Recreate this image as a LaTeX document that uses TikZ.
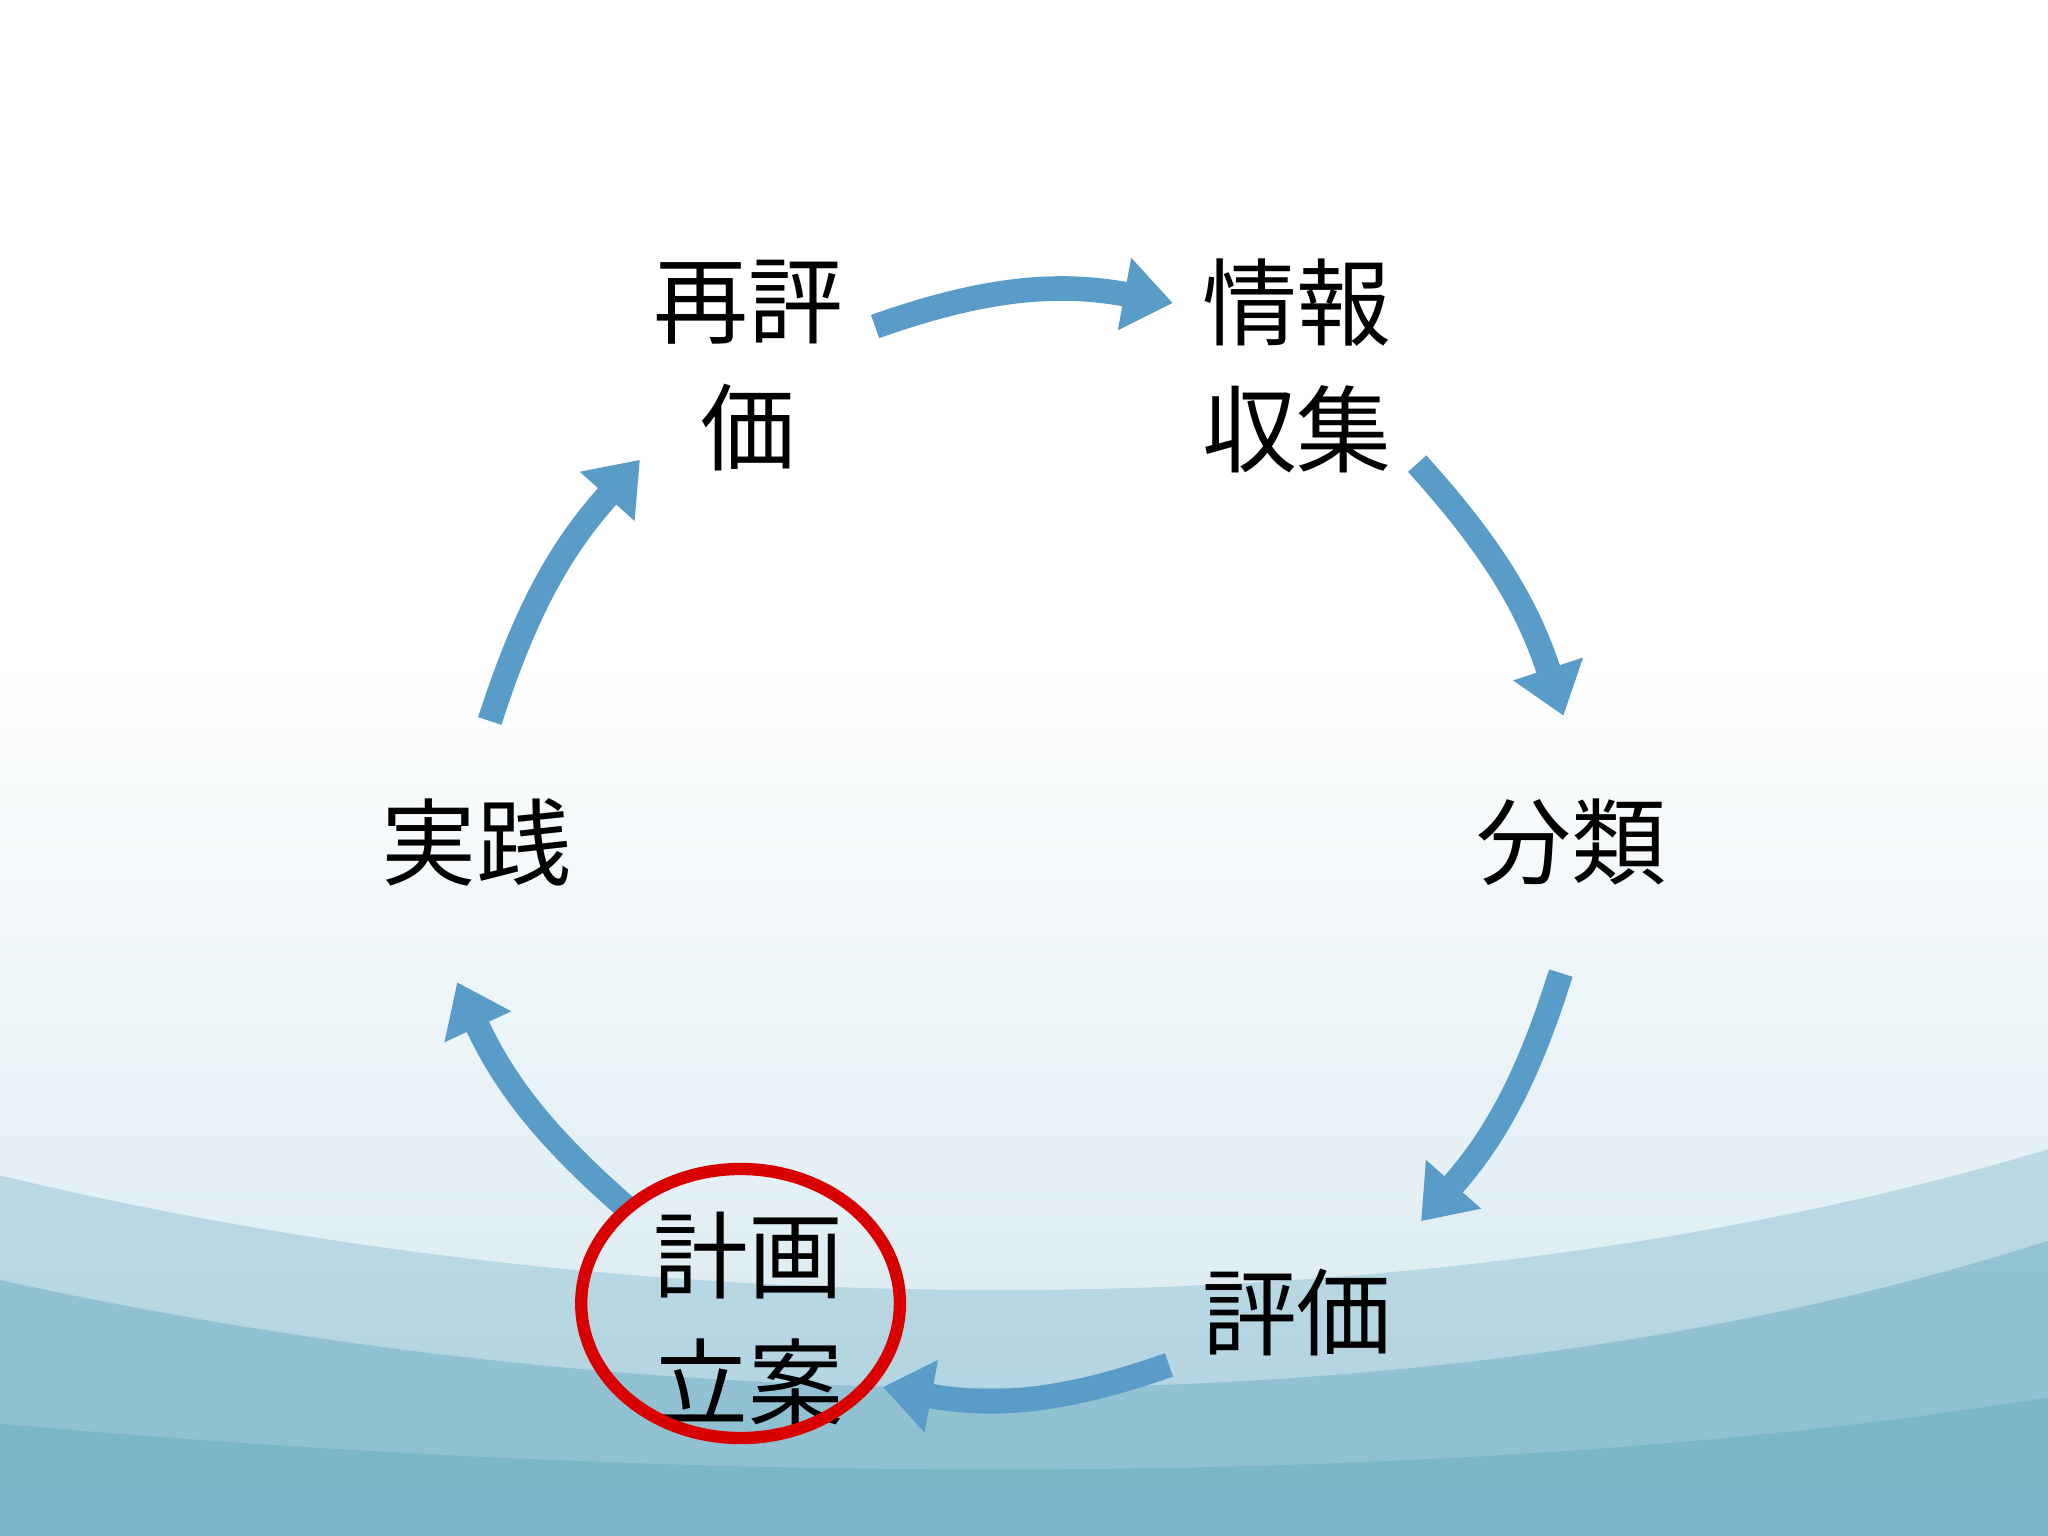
\documentclass[tikz,border=0pt]{standalone}
\usepackage{fontspec}
\newfontfamily\cjk{Noto Sans CJK JP}
\usetikzlibrary{arrows.meta,shapes.geometric}
\definecolor{arr}{HTML}{5A9CC8}
\definecolor{seaA}{HTML}{D2E6EE}
\definecolor{seaB}{HTML}{6FAFC4}
\tikzset{
  lbl/.style={font=\cjk\fontsize{27}{36}\selectfont, align=center, text=black},
  cyc/.style={draw=arr, line width=7pt, -{Triangle[width=20pt,length=14pt]}}
}
\begin{document}
\begin{tikzpicture}[x=0.013061cm,y=-0.013061cm]
\useasboundingbox (0,0) rectangle (1568,1176);
\fill[white] (0,0) rectangle (1568,1176);
\shade[top color=white, bottom color=seaA] (0,500) rectangle (1568,1176);
\fill[seaB, opacity=0.35] (0,900) .. controls (500,1020) and (1100,1020) .. (1568,880) -- (1568,1176) -- (0,1176) -- cycle;
\fill[seaB, opacity=0.5] (0,980) .. controls (500,1090) and (1100,1100) .. (1568,950) -- (1568,1176) -- (0,1176) -- cycle;
\fill[seaB, opacity=0.6] (0,1090) .. controls (500,1135) and (1100,1145) .. (1568,1070) -- (1568,1176) -- (0,1176) -- cycle;

\node[lbl] (a) at (573,280) {再評\\価};
\node[lbl] (b) at (993,280) {情報\\収集};
\node[lbl] (c) at (1203,645) {分類};
\node[lbl] (d) at (993,1005) {評価};
\node[lbl] (e) at (573,1010) {計画\\立案};
\node[lbl] (f) at (365,645) {実践};

\coordinate (a1) at (670,250); \coordinate (a2) at (898,232);
\coordinate (b1) at (1085,355); \coordinate (b2) at (1197,548);
\coordinate (c1) at (1195,745); \coordinate (c2) at (1088,935);
\coordinate (d1) at (895,1045); \coordinate (d2) at (676,1062);
\coordinate (e1) at (480,925); \coordinate (e2) at (350,752);
\coordinate (f1) at (375,552); \coordinate (f2) at (490,352);
\draw[cyc] (a1) to[bend left=15] (a2);
\draw[cyc] (b1) to[bend left=12] (b2);
\draw[cyc] (c1) to[bend left=12] (c2);
\draw[cyc] (d1) to[bend left=15] (d2);
\draw[cyc] (e1) to[bend left=12] (e2);
\draw[cyc] (f1) to[bend left=12] (f2);

\draw[red!85!black, line width=3.5pt] (567,998) ellipse [x radius=122, y radius=103];
\end{tikzpicture}
\end{document}
